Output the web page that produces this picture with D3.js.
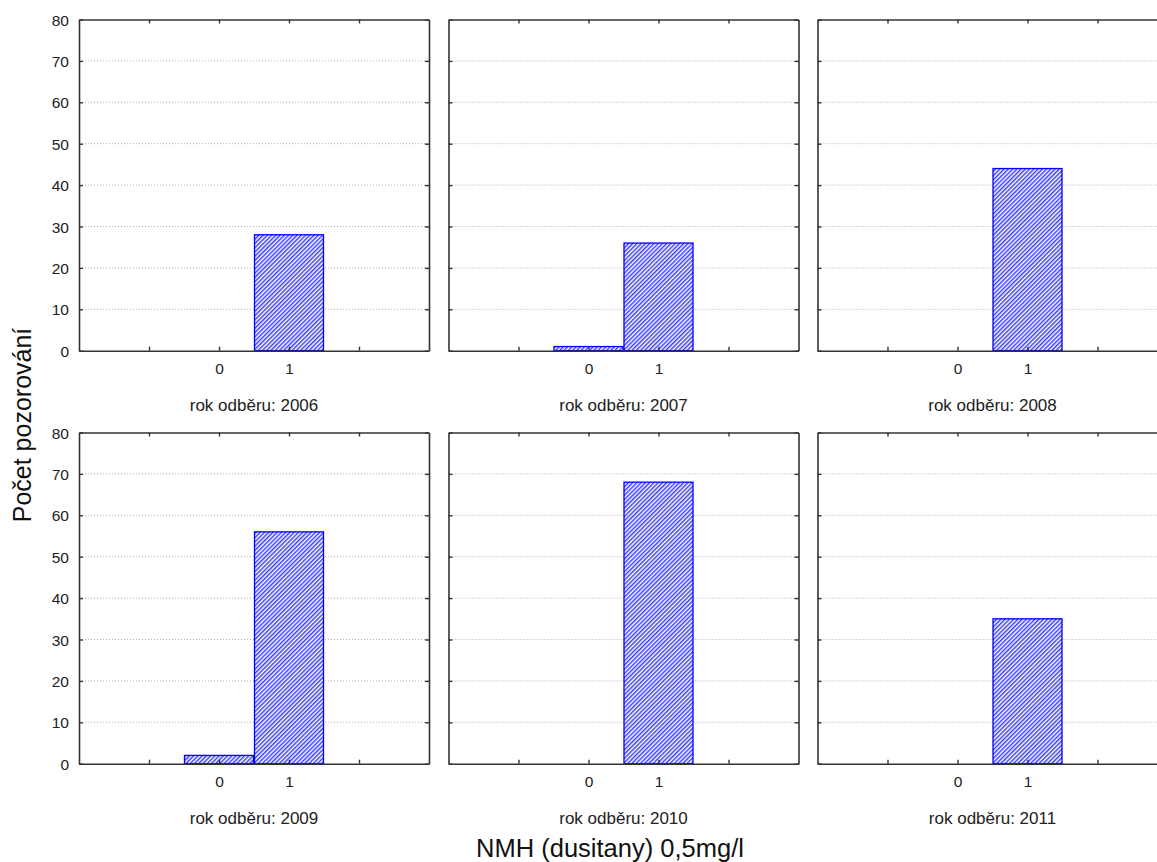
<!DOCTYPE html>
<html>
<head>
<meta charset="utf-8">
<script src="https://cdn.jsdelivr.net/npm/d3@7"></script>
<style>
  body { margin: 0; background: #fff; }
  svg { display: block; font-family: "Liberation Sans", Arial, sans-serif; }
</style>
</head>
<body>
<script>
// Counts per year for categories 0 and 1
const years = [2006, 2007, 2008, 2009, 2010, 2011];
const categories = [0, 1];
const counts0 = [0, 1, 0, 2, 0, 0];
const counts1 = [28, 26, 44, 56, 68, 35];
const yTicks = [0, 10, 20, 30, 40, 50, 60, 70, 80];
const xTicks = [-1, 0, 1, 2];
const xLabels = ["0", "1"];
const panelTitlePrefix = "rok odběru: ";
const yTitle = "Počet pozorování";
const xTitle = "NMH (dusitany) 0,5mg/l";

const W = 1157, H = 862;
const svg = d3.select("body").append("svg").attr("width", W).attr("height", H);

const defs = svg.append("defs");
const pat = defs.append("pattern")
  .attr("id", "hatch").attr("patternUnits", "userSpaceOnUse")
  .attr("width", 3).attr("height", 3)
  .attr("patternTransform", "rotate(45)");
pat.append("rect").attr("width", 3).attr("height", 3).attr("fill", "#fff");
pat.append("line").attr("x1", 0.75).attr("y1", 0).attr("x2", 0.75).attr("y2", 3)
  .attr("stroke", "#2f2fff").attr("stroke-width", 1.4);

const colLeft = [79, 448.5, 817.5];
const rowTop = [19.5, 432.5];
const pw = 350, ph = 331.2;
const fontSize = "15.5px";

const y = d3.scaleLinear().domain([0, 80]).range([ph, 0]);
const x = d3.scaleLinear().domain([-2, 3]).range([0, pw]);

years.forEach((yr, i) => {
  const col = i % 3, row = Math.floor(i / 3);
  const g = svg.append("g").attr("transform", `translate(${colLeft[col]},${rowTop[row]})`);

  // dotted grid
  g.selectAll("line.grid").data(yTicks.filter(t => t > 0 && t < 80)).enter()
    .append("line").attr("class", "grid")
    .attr("x1", 0).attr("x2", pw)
    .attr("y1", d => y(d)).attr("y2", d => y(d))
    .attr("stroke", "#b9a8c0").attr("stroke-width", 1)
    .attr("stroke-dasharray", "1,2");

  // bars
  const vals = [counts0[i], counts1[i]];
  g.selectAll("rect.bar").data(categories.map((c, k) => ({ c, v: vals[k] })).filter(d => d.v > 0))
    .enter().append("rect").attr("class", "bar")
    .attr("x", d => x(d.c - 0.5) + 0.5)
    .attr("width", d => x(d.c + 0.5) - x(d.c - 0.5) - 1)
    .attr("y", d => y(d.v))
    .attr("height", d => y(0) - y(d.v))
    .attr("fill", "url(#hatch)")
    .attr("stroke", "#0000ff").attr("stroke-width", 1.3);

  // frame axes with inward ticks
  const left = d3.axisLeft(y).tickValues(yTicks).tickSize(-4).tickSizeOuter(0)
    .tickFormat(col === 0 ? d3.format("d") : () => "");
  const right = d3.axisRight(y).tickValues(yTicks).tickSize(-4).tickSizeOuter(0).tickFormat(() => "");
  const bottom = d3.axisBottom(x).tickValues(xTicks).tickSize(-4).tickSizeOuter(0)
    .tickFormat(d => (d === 0 || d === 1) ? xLabels[d] : "");
  const top = d3.axisTop(x).tickValues(xTicks).tickSize(-4).tickSizeOuter(0).tickFormat(() => "");

  const styleAxis = a => {
    a.select(".domain").attr("stroke", "#333").attr("stroke-width", 1.6);
    a.selectAll(".tick line").attr("stroke", "#333").attr("stroke-width", 1.4);
    a.selectAll(".tick text").attr("fill", "#222").style("font-size", fontSize)
      .style("font-family", "Liberation Sans, Arial, sans-serif");
  };
  const la = g.append("g").call(left); styleAxis(la);
  la.selectAll(".tick text").attr("x", -10).attr("dy", "0.36em");
  const ra = g.append("g").attr("transform", `translate(${pw},0)`).call(right); styleAxis(ra);
  const ba = g.append("g").attr("transform", `translate(0,${ph})`).call(bottom); styleAxis(ba);
  ba.selectAll(".tick text").attr("y", 12);
  const ta = g.append("g").call(top); styleAxis(ta);

  g.append("text").attr("x", pw / 2).attr("y", ph + 60.5)
    .attr("text-anchor", "middle").attr("fill", "#222").style("font-size", "17px")
    .text(panelTitlePrefix + yr);
});

svg.append("text").attr("transform", `translate(31,${425}) rotate(-90)`)
  .attr("text-anchor", "middle").attr("fill", "#111").style("font-size", "25px")
  .text(yTitle);
svg.append("text").attr("x", 610).attr("y", 857)
  .attr("text-anchor", "middle").attr("fill", "#111").style("font-size", "25.5px")
  .text(xTitle);
</script>
</body>
</html>
